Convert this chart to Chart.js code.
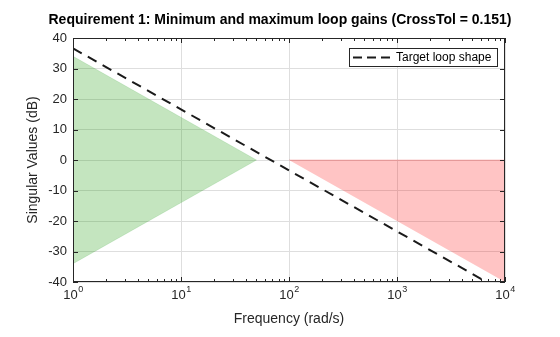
<!DOCTYPE html>
<html>
<head>
<meta charset="utf-8">
<script src="https://cdn.jsdelivr.net/npm/chart.js@4.4.1/dist/chart.umd.min.js"></script>
<style>
  html, body { margin: 0; padding: 0; background: #fff; }
</style>
</head>
<body>
<canvas id="c" width="560" height="337"></canvas>
<script>
// regions and target loop shape (freq in rad/s, gain in dB)
var minGainFreq = [1, 50, 1];
var minGainDb = [34, 0, -34];
var maxGainFreq = [100, 10000, 10000];
var maxGainDb = [0, 0, -40];
var targetFreq = [1, 10000];
var targetDb = [36.6, -43.4];
var xMajor = [1, 10, 100, 1000, 10000];
var yTicks = [-40, -30, -20, -10, 0, 10, 20, 30, 40];

var FONT = '"Liberation Sans", Arial, Helvetica, sans-serif';
var AXC = '#262626';

function pts(xs, ys) {
  return xs.map(function(x, i) { return { x: x, y: ys[i] }; });
}
function isMajor(v) { return xMajor.indexOf(v) >= 0; }

// MATLAB-ish box: inner ticks, frame, 10^n labels, legend
var matlabAxes = {
  id: 'matlabAxes',
  afterDraw: function(chart) {
    var ctx = chart.ctx, a = chart.chartArea;
    var xs = chart.scales.x, ys = chart.scales.y;
    ctx.save();
    ctx.strokeStyle = AXC;
    ctx.lineWidth = 1;
    ctx.beginPath();
    xs.ticks.forEach(function(t) {
      var px = Math.round(xs.getPixelForValue(t.value)) + 0.5;
      var len = isMajor(t.value) ? 5 : 3;
      ctx.moveTo(px, a.bottom); ctx.lineTo(px, a.bottom - len);
      ctx.moveTo(px, a.top); ctx.lineTo(px, a.top + len);
    });
    yTicks.forEach(function(v) {
      var py = Math.round(ys.getPixelForValue(v)) + 0.5;
      ctx.moveTo(a.left, py); ctx.lineTo(a.left + 5, py);
      ctx.moveTo(a.right, py); ctx.lineTo(a.right - 5, py);
    });
    ctx.stroke();
    ctx.strokeRect(Math.round(a.left) + 0.5, Math.round(a.top) + 0.5,
      Math.round(a.right - a.left) - 1, Math.round(a.bottom - a.top) - 1);

    // x tick labels with superscript exponent
    ctx.fillStyle = AXC;
    ctx.textBaseline = 'alphabetic';
    ctx.textAlign = 'left';
    xMajor.forEach(function(v) {
      var px = xs.getPixelForValue(v);
      var e = String(Math.round(Math.log10(v)));
      ctx.font = '13px ' + FONT;
      var wb = ctx.measureText('10').width;
      ctx.font = '9px ' + FONT;
      var we = ctx.measureText(e).width;
      var x0 = px - (wb + we) / 2;
      ctx.font = '13px ' + FONT;
      ctx.fillText('10', x0, a.bottom + 17);
      ctx.font = '9px ' + FONT;
      ctx.fillText(e, x0 + wb + 0.5, a.bottom + 10);
    });

    // legend box
    var ds = chart.data.datasets[0];
    var lx = 349.5, ly = 48.5, lw = 148, lh = 18;
    ctx.fillStyle = '#fff';
    ctx.fillRect(lx, ly, lw, lh);
    ctx.strokeStyle = AXC;
    ctx.strokeRect(lx, ly, lw, lh);
    ctx.strokeStyle = ds.borderColor;
    ctx.lineWidth = ds.borderWidth;
    ctx.setLineDash([9, 5]);
    ctx.beginPath();
    ctx.moveTo(353, ly + lh / 2);
    ctx.lineTo(392, ly + lh / 2);
    ctx.stroke();
    ctx.setLineDash([]);
    ctx.fillStyle = '#000';
    ctx.font = '12px ' + FONT;
    ctx.textBaseline = 'middle';
    ctx.fillText(ds.label, 396, ly + lh / 2 + 0.5);
    ctx.restore();
  }
};

new Chart(document.getElementById('c'), {
  type: 'scatter',
  data: {
    datasets: [
      {
        label: 'Target loop shape',
        data: pts(targetFreq, targetDb),
        showLine: true,
        borderColor: '#1a1a1a',
        borderWidth: 2,
        borderDash: [10, 7],
        pointRadius: 0,
        fill: false
      },
      {
        label: 'Minimum gain',
        data: pts(minGainFreq, minGainDb),
        showLine: true,
        backgroundColor: 'rgba(20,150,0,0.25)',
        borderColor: 'rgba(20,150,0,0.12)',
        borderWidth: 1,
        pointRadius: 0,
        fill: 'shape'
      },
      {
        label: 'Maximum gain',
        data: pts(maxGainFreq, maxGainDb),
        showLine: true,
        backgroundColor: 'rgba(255,0,0,0.23)',
        borderColor: 'rgba(230,0,0,0.2)',
        borderWidth: 1,
        pointRadius: 0,
        fill: 'shape'
      }
    ]
  },
  options: {
    responsive: false,
    animation: false,
    devicePixelRatio: 1,
    events: [],
    layout: { padding: 0 },
    plugins: {
      legend: { display: false },
      tooltip: { enabled: false },
      title: {
        display: true,
        text: 'Requirement 1: Minimum and maximum loop gains (CrossTol = 0.151)',
        color: '#000',
        font: { family: FONT, size: 14, weight: 'bold' },
        padding: { top: 11.6, bottom: 9.6 }
      }
    },
    scales: {
      x: {
        type: 'logarithmic',
        min: 1,
        max: 10000,
        afterBuildTicks: function(s) {
          var t = [];
          xMajor.forEach(function(d, i) {
            t.push({ value: d });
            if (i < xMajor.length - 1) {
              for (var m = 2; m <= 9; m++) t.push({ value: d * m });
            }
          });
          s.ticks = t;
        },
        afterFit: function(s) { s.height = 55; },
        ticks: { display: false },
        grid: {
          drawTicks: false,
          color: function(c) { return c.tick && isMajor(c.tick.value) ? '#dedede' : 'rgba(0,0,0,0)'; }
        },
        border: { display: false },
        title: {
          display: true,
          text: 'Frequency (rad/s)',
          color: AXC,
          font: { family: FONT, size: 14 },
          padding: { top: 0, bottom: 9 }
        }
      },
      y: {
        min: -40,
        max: 40,
        afterBuildTicks: function(s) {
          s.ticks = yTicks.map(function(v) { return { value: v }; });
        },
        afterFit: function(s) { s.width = 73; },
        ticks: {
          color: AXC,
          padding: 6,
          font: { family: FONT, size: 13 }
        },
        grid: { drawTicks: false, color: '#dedede' },
        border: { display: false },
        title: {
          display: true,
          text: 'Singular Values (dB)',
          color: AXC,
          font: { family: FONT, size: 14 },
          padding: { top: 24.6, bottom: 0 }
        }
      },
      // empty right-hand spacer so the title centres on the canvas
      yRight: {
        position: 'right',
        min: -40,
        max: 40,
        afterFit: function(s) { s.width = 55; },
        ticks: { display: false },
        grid: { display: false },
        border: { display: false }
      }
    }
  },
  plugins: [matlabAxes]
});
</script>
</body>
</html>
